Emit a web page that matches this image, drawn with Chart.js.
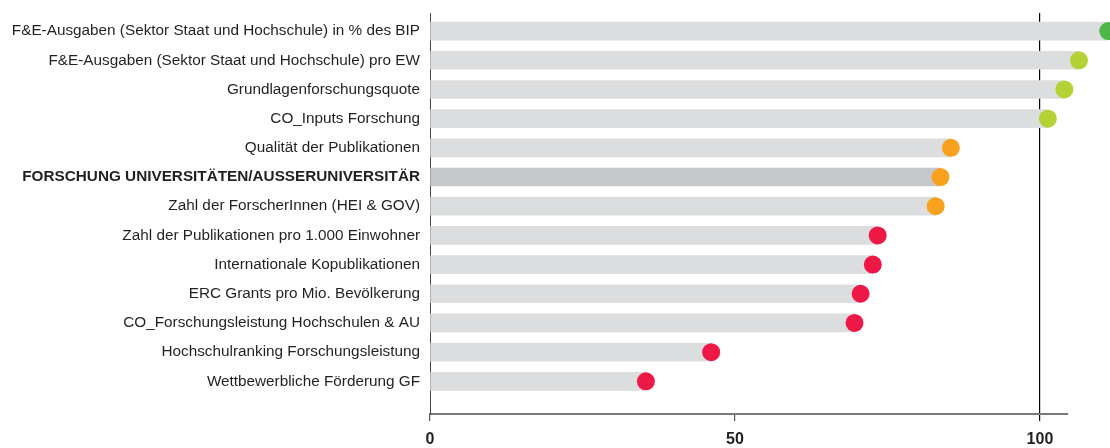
<!DOCTYPE html>
<html>
<head>
<meta charset="utf-8">
<script src="https://cdn.jsdelivr.net/npm/chart.js@4/dist/chart.umd.min.js"></script>
<style>
  html, body { margin: 0; padding: 0; background: #fff; }
  #wrap { width: 1110px; height: 448px; }
</style>
</head>
<body>
<div id="wrap"><canvas id="myChart" width="1110" height="448"></canvas></div>
<script>
const kategorien = [
    'F&E-Ausgaben (Sektor Staat und Hochschule) in % des BIP',
    'F&E-Ausgaben (Sektor Staat und Hochschule) pro EW',
    'Grundlagenforschungsquote',
    'CO_Inputs Forschung',
    'Qualität der Publikationen',
    'FORSCHUNG UNIVERSITÄTEN/AUSSERUNIVERSITÄR',
    'Zahl der ForscherInnen (HEI & GOV)',
    'Zahl der Publikationen pro 1.000 Einwohner',
    'Internationale Kopublikationen',
    'ERC Grants pro Mio. Bevölkerung',
    'CO_Forschungsleistung Hochschulen & AU',
    'Hochschulranking Forschungsleistung',
    'Wettbewerbliche Förderung GF'
]
const werte = [111.2, 106.4, 104.0, 101.3, 85.4, 83.7, 82.9, 73.4, 72.6, 70.6, 69.6, 46.1, 35.4]
const punktFarben = [
    '#4db748', '#b5d234', '#b5d234', '#b5d234',
    '#f7a11f', '#f7a11f', '#f7a11f',
    '#ee1847', '#ee1847', '#ee1847', '#ee1847', '#ee1847', '#ee1847'
]
const balkenFarben = kategorien.map((k, i) => i === 5 ? '#c6c7c8' : '#dcddde')
const xTicks = [0, 50, 100]
const hervorgehoben = 5

const datenPunkte = werte.map((v, i) => ({ x: v, y: i }))

const config = {
    type: 'bar',
    data: {
        datasets: [
            {
                type: 'line',
                data: datenPunkte,
                showLine: false,
                pointRadius: 9,
                // grosser hoverRadius, damit punkte ausserhalb der achse trotzdem gezeichnet werden
                pointHoverRadius: 90,
                pointBackgroundColor: punktFarben,
                pointBorderWidth: 0,
                clip: false,
                order: 0
            },
            {
                type: 'bar',
                data: datenPunkte,
                backgroundColor: balkenFarben,
                barThickness: 18,
                borderWidth: 0,
                clip: false,
                order: 1
            }
        ]
    },
    options: {
        indexAxis: 'y',
        responsive: false,
        animation: false,
        events: [],
        layout: { autoPadding: false, padding: { top: 13, right: 42, left: 0, bottom: 0 } },
        plugins: { legend: { display: false }, tooltip: { enabled: false } },
        scales: {
            x: {
                type: 'linear',
                min: 0,
                max: 104.6,
                afterBuildTicks: (scale) => { scale.ticks = xTicks.map(v => ({ value: v })) },
                afterFit: (scale) => { scale.height = 34 },
                grid: {
                    color: (ctx) => ctx.tick && ctx.tick.value === 100 ? '#000' : 'rgba(0,0,0,0)',
                    tickColor: (ctx) => ctx.tick && ctx.tick.value === 100 ? '#000' : '#555',
                    tickLength: 7,
                    lineWidth: 1.2
                },
                border: { color: '#7a7a7a', width: 2 },
                ticks: {
                    color: '#231f20',
                    padding: 9,
                    font: { family: '"Liberation Sans Narrow", "Liberation Sans", Arial', size: 16, weight: 'bold' }
                }
            },
            y: {
                type: 'linear',
                reverse: true,
                offset: false,
                min: -0.62,
                max: 13.12,
                afterBuildTicks: (scale) => { scale.ticks = kategorien.map((k, i) => ({ value: i })) },
                afterFit: (scale) => { scale.width = 430 },
                grid: { display: false },
                border: { color: '#444', width: 1 },
                ticks: {
                    color: '#231f20',
                    padding: 2,
                    callback: (v) => kategorien[v],
                    font: (ctx) => ({
                        family: '"Liberation Sans", Arial, sans-serif',
                        size: 15.3,
                        weight: ctx.tick && ctx.tick.value === hervorgehoben ? 'bold' : 'normal'
                    })
                }
            }
        }
    }
}

new Chart(document.getElementById('myChart'), config)
</script>
</body>
</html>
